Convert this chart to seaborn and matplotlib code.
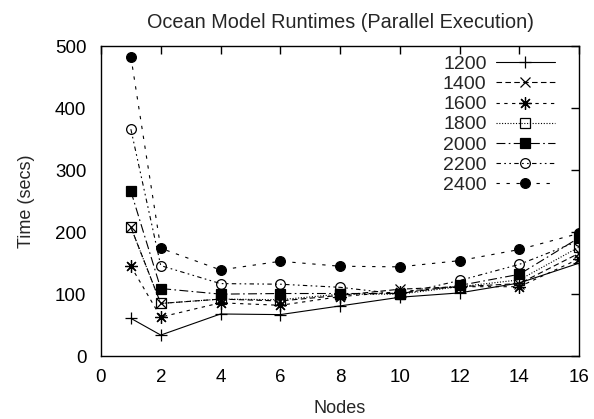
import numpy as np
import pandas as pd
import seaborn as sns
import matplotlib.pyplot as plt

# data
nodes = [1, 2, 4, 6, 8, 10, 12, 14, 16]
t1200 = [61, 34, 68, 67, 81, 95, 102, 118, 150]
t1400 = [208, 85, 92, 89, 98, 108, 112, 117, 166]
t1600 = [145, 63, 86, 82, 96, 104, 112, 112, 157]
t1800 = [208, 85, 92, 91, 100, 100, 112, 123, 176]
t2000 = [266, 109, 100, 101, 101, 101, 114, 132, 191]
t2200 = [366, 146, 117, 116, 111, 100, 122, 148, 186]
t2400 = [483, 174, 139, 153, 145, 144, 154, 172, 198]

series = {"1200": t1200, "1400": t1400, "1600": t1600, "1800": t1800,
          "2000": t2000, "2200": t2200, "2400": t2400}

# gnuplot-ish line / point types
styles = {
    "1200": dict(marker="+", dashes=(None, None), mfc="black", ms=8),
    "1400": dict(marker="x", dashes=(5, 3), mfc="black", ms=7),
    "1600": dict(marker=(8, 2, 0), dashes=(3, 4), mfc="black", ms=9),
    "1800": dict(marker="s", dashes=(1, 1.5), mfc="none", ms=7),
    "2000": dict(marker="s", dashes=(8, 3, 1.5, 3), mfc="black", ms=7),
    "2200": dict(marker="o", dashes=(4, 3, 1.5, 3, 1.5, 3), mfc="none", ms=7),
    "2400": dict(marker="o", dashes=(3, 6), mfc="black", ms=7),
}

sns.set_style("white")
plt.rcParams["font.family"] = ["Liberation Sans", "DejaVu Sans"]
plt.rcParams["axes.linewidth"] = 1.0

fig = plt.figure(figsize=(5.94, 4.19), dpi=100)
ax = fig.add_axes([0.170, 0.150, 0.805, 0.740])

for name, vals in series.items():
    st = styles[name]
    df = pd.DataFrame({"Nodes": nodes, "Time": vals})
    sns.lineplot(data=df, x="Nodes", y="Time", ax=ax, color="black",
                 linewidth=0.8, marker=st["marker"], markersize=st["ms"],
                 markerfacecolor=st["mfc"], markeredgecolor="black",
                 markeredgewidth=0.9, label=name)
    line = ax.lines[-1]
    if st["dashes"][0] is not None:
        line.set_dashes(st["dashes"])

ax.set_xlim(0, 16)
ax.set_ylim(0, 500)
ax.set_xticks(np.arange(0, 17, 2))
ax.set_yticks(np.arange(0, 501, 100))
ax.tick_params(direction="in", length=6, width=1, top=True, right=True,
               labelsize=13.5, colors="black")
ax.tick_params(axis="x", pad=9)
ax.tick_params(axis="y", pad=10.5)
for s in ax.spines.values():
    s.set_color("black")

ax.set_xlabel("Nodes", fontsize=13, labelpad=10)
ax.set_ylabel("Time (secs)", fontsize=13, labelpad=14)
ax.set_title("Ocean Model Runtimes (Parallel Execution)", fontsize=14.3, pad=13)

ax.legend(loc="upper right", bbox_to_anchor=(0.965, 0.995), borderaxespad=0,
          frameon=False, markerfirst=False, fontsize=14, handlelength=3.0,
          handletextpad=0.5, labelspacing=0.13)

fig.savefig("out.png", dpi=100)
